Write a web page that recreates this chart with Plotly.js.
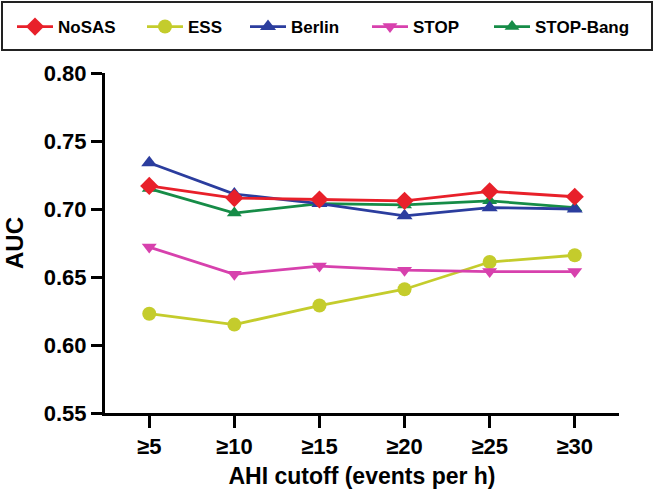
<!DOCTYPE html>
<html>
<head>
<meta charset="utf-8">
<script src="https://cdn.plot.ly/plotly-3.0.1.min.js"></script>
<style>html,body{margin:0;padding:0;background:#fff;}#chart{width:654px;height:495px;}</style>
</head>
<body>
<div id="chart"></div>
<script>
const categories = ['≥5', '≥10', '≥15', '≥20', '≥25', '≥30'];
const noSAS    = [0.717, 0.708, 0.707, 0.706, 0.713, 0.709];
const ess      = [0.623, 0.615, 0.629, 0.641, 0.661, 0.666];
const berlin   = [0.734, 0.711, 0.704, 0.695, 0.701, 0.700];
const stop     = [0.672, 0.652, 0.658, 0.655, 0.654, 0.654];
const stopBang = [0.715, 0.697, 0.704, 0.703, 0.706, 0.701];
const yTicks = [0.55, 0.60, 0.65, 0.70, 0.75, 0.80];

const FONT = 'Liberation Sans, Arial, sans-serif';
const L = 105, W = 514, B = 413, H = 340;

function tr(name, y, color, symbol, legendId, msize) {
  return {
    type: 'scatter', mode: 'lines+markers', name: name,
    x: categories, y: y, legend: legendId,
    line: {color: color, width: 2.8},
    marker: {color: color, symbol: symbol, size: msize || 13}
  };
}

const data = [
  tr('ESS', ess, '#c4cc2c', 'circle', 'legend2', 14),
  tr('STOP', stop, '#d741ad', 'triangle-down', 'legend4', 13),
  tr('STOP-Bang', stopBang, '#168c47', 'triangle-up', 'legend5', 13),
  tr('Berlin', berlin, '#2b3d9e', 'triangle-up', 'legend3', 14),
  tr('NoSAS', noSAS, '#e8202a', 'diamond', 'legend', 14)
];

function leg(px) {
  return {
    orientation: 'h', x: (px - L) / W, xref: 'paper', xanchor: 'left',
    y: (B - 27) / H, yref: 'paper', yanchor: 'middle',
    font: {family: FONT, size: 17, color: '#000', weight: 'bold'},
    bgcolor: 'rgba(0,0,0,0)', itemwidth: 36
  };
}

const layout = {
  width: 654, height: 495,
  margin: {l: L, r: 654 - L - W, t: B - H, b: 495 - B, autoexpand: false},
  paper_bgcolor: '#fff', plot_bgcolor: '#fff',
  font: {family: FONT, color: '#000'},
  showlegend: true,
  legend: leg(12),
  legend2: leg(142),
  legend3: leg(245),
  legend4: leg(367),
  legend5: leg(489),
  shapes: [{
    type: 'rect', xref: 'paper', yref: 'paper',
    x0: (2 - L) / W, x1: (652 - L) / W,
    y0: (B - 50) / H, y1: (B - 2) / H,
    line: {color: '#222', width: 2}, fillcolor: 'rgba(0,0,0,0)'
  }],
  xaxis: {
    type: 'category', range: [-0.52, 5.52],
    showgrid: false, zeroline: false,
    showline: true, linecolor: '#000', linewidth: 3,
    ticks: 'outside', ticklen: 12, tickwidth: 3, tickcolor: '#000',
    tickfont: {family: FONT, size: 22, color: '#000', weight: 'bold'},
    title: {text: 'AHI cutoff (events per h)', font: {family: FONT, size: 23, color: '#000', weight: 'bold'}, standoff: 10}
  },
  yaxis: {
    range: [0.55, 0.80], tickvals: yTicks, tickformat: '.2f',
    showgrid: false, zeroline: false,
    showline: true, linecolor: '#000', linewidth: 3,
    ticks: 'outside', ticklen: 11, tickwidth: 3, tickcolor: '#000',
    tickfont: {family: FONT, size: 22, color: '#000', weight: 'bold'},
    title: {text: 'AUC', font: {family: FONT, size: 24, color: '#000', weight: 'bold'}, standoff: 14}
  }
};

Plotly.newPlot('chart', data, layout, {displayModeBar: false, staticPlot: true});
</script>
</body>
</html>
